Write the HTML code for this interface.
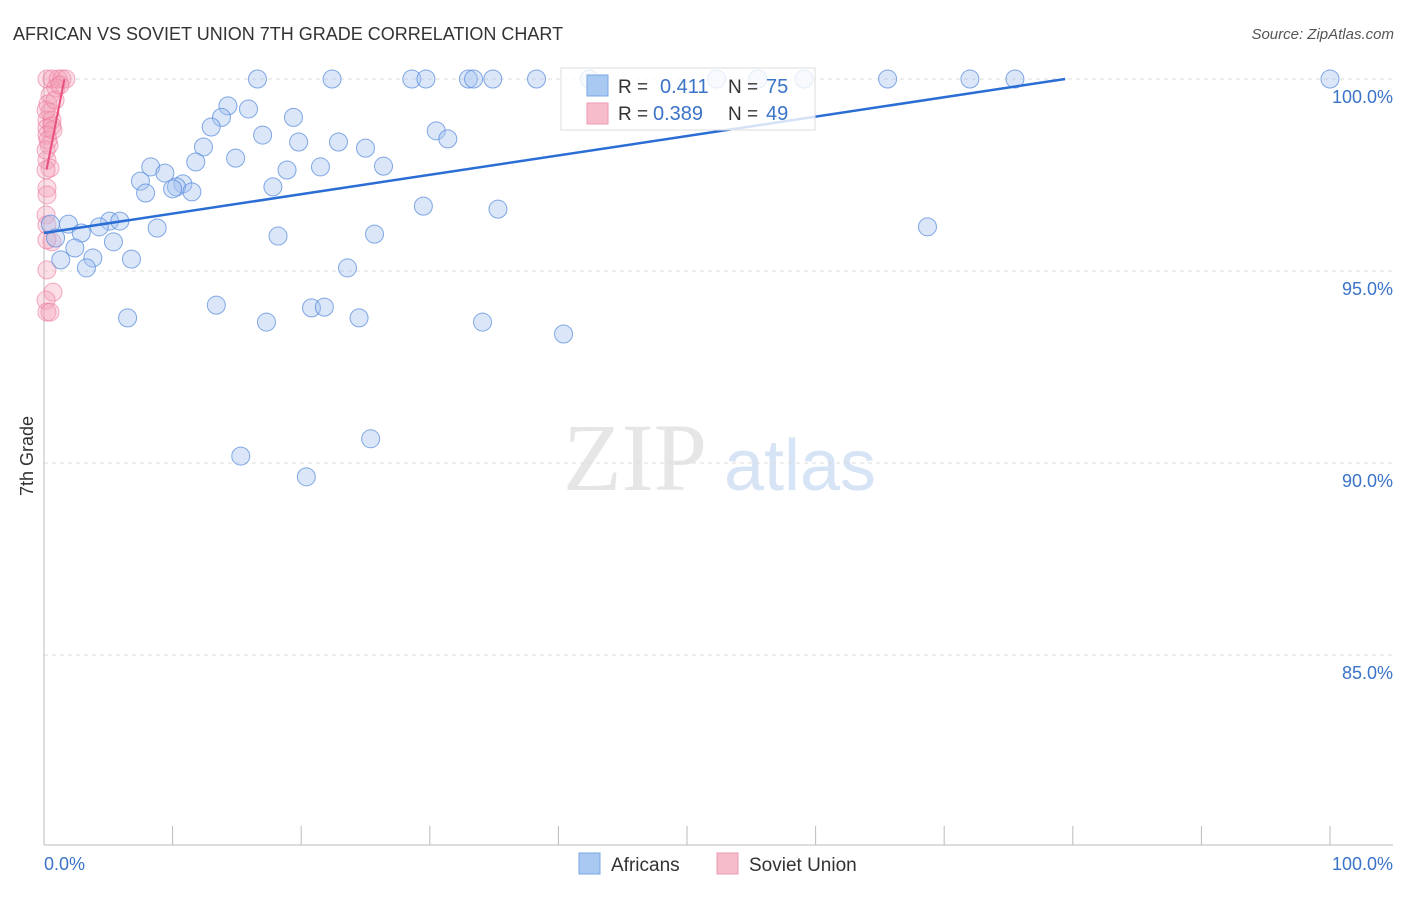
<!DOCTYPE html>
<html><head><meta charset="utf-8"><style>
body{margin:0;background:#fff;font-family:"Liberation Sans",sans-serif}
</style></head><body>
<svg width="1406" height="892" xmlns="http://www.w3.org/2000/svg" font-family="Liberation Sans, sans-serif">
<text x="13" y="40" font-size="18" fill="#333">AFRICAN VS SOVIET UNION 7TH GRADE CORRELATION CHART</text>
<text x="1394" y="39" font-size="15" fill="#555" text-anchor="end" font-style="italic">Source: ZipAtlas.com</text>
<text transform="translate(33,456) rotate(-90)" font-size="18" fill="#333" text-anchor="middle">7th Grade</text>
<g>
<text x="635" y="490" font-size="96" fill="#e6e6e6" font-family="Liberation Serif, serif" text-anchor="middle">ZIP</text>
<text x="800" y="490" font-size="72" fill="#d6e4f5" text-anchor="middle">atlas</text></g>
<g id="grid"></g><g id="axes"></g><g id="pts"></g><g id="trend"></g>
<g>
<rect x="561" y="68" width="254" height="62" fill="rgba(255,255,255,0.8)" stroke="#ddd"/>
<rect x="587" y="75" width="21" height="21" fill="#a9c8f2" stroke="#7aa6e3"/>
<rect x="587" y="103" width="21" height="21" fill="#f7bccc" stroke="#ef9ab4"/>
<text x="618" y="93" font-size="19" fill="#333">R =</text><text x="660" y="93" font-size="20" fill="#3a73c8">0.411</text>
<text x="728" y="93" font-size="19" fill="#333">N =</text><text x="766" y="93" font-size="20" fill="#3a73c8">75</text>
<text x="618" y="120" font-size="19" fill="#333">R =</text><text x="653" y="120" font-size="20" fill="#3a73c8">0.389</text>
<text x="728" y="120" font-size="19" fill="#333">N =</text><text x="766" y="120" font-size="20" fill="#3a73c8">49</text></g>
<g>
<rect x="579" y="853" width="21" height="21" fill="#a9c8f2" stroke="#7aa6e3"/>
<text x="611" y="871" font-size="19" fill="#333">Africans</text>
<rect x="717" y="853" width="21" height="21" fill="#f7bccc" stroke="#ef9ab4"/>
<text x="749" y="871" font-size="19" fill="#333">Soviet Union</text></g>
</svg>
<script>
const yTicks=[100,95,90,85];
const yTickLabels=["100.0%","95.0%","90.0%","85.0%"];
const xTickCount=10;
const blueX=[16.6,22.4,28.6,29.7,33.0,33.4,34.9,38.3,42.4,52.3,55.5,59.1,65.6,72.0,75.5,100,
14.3,15.9,13.8,19.4,13.0,17.0,30.5,31.4,19.8,22.9,12.4,25.0,14.9,11.8,8.3,21.5,26.4,9.4,18.9,7.5,10.8,10.3,10.0,17.8,11.5,7.9,29.5,35.3,68.7,
0.5,1.9,5.1,5.9,4.3,2.9,8.8,18.2,25.7,0.9,5.4,2.4,1.3,3.8,6.8,3.3,23.6,13.4,20.8,21.8,6.5,17.3,24.5,34.1,40.4,25.4,15.3,20.4];
const blueY=[100,100,100,100,100,100,100,100,100,100,100,100,100,100,100,100,
99.3,99.22,99.0,99.0,98.75,98.54,98.65,98.44,98.36,98.36,98.23,98.2,97.94,97.84,97.71,97.71,97.73,97.55,97.63,97.34,97.27,97.19,97.14,97.19,97.06,97.03,96.69,96.61,96.15,
96.22,96.22,96.3,96.3,96.15,95.99,96.12,95.91,95.96,95.86,95.76,95.6,95.29,95.34,95.31,95.08,95.08,94.11,94.04,94.06,93.78,93.67,93.78,93.67,93.36,90.63,90.18,89.64];
const pinkX=[0.23,0.62,1.1,1.4,1.7,0.93,0.47,0.31,0.47,0.23,0.62,0.23,0.62,0.23,0.39,0.23,0.47,0.23,0.23,0.16,0.23,0.62,0.23,0.23,0.7,0.16,0.23,0.47,0.16,0.31,0.16,0.86,1.24,0.7,0.16];
const pinkY=[100,100,100,100,100,99.77,99.58,99.35,99.14,98.93,98.93,98.72,98.78,98.54,98.28,97.89,97.68,97.16,96.98,96.46,96.2,95.76,95.81,95.03,94.45,94.24,93.93,93.93,99.19,98.41,97.63,99.45,99.84,98.67,98.15];
const blueTrend=[95.99,0.0505]; // intercept, slope
const pinkTrend=[97.3,1.7];
const X=v=>44+v*12.86, Y=v=>79+(100-v)*38.4;
const NS="http://www.w3.org/2000/svg";
function mk(t,a,p){const e=document.createElementNS(NS,t);for(const k in a)e.setAttribute(k,a[k]);p.appendChild(e);return e;}
const grid=document.getElementById('grid'),axes=document.getElementById('axes'),pts=document.getElementById('pts'),tr=document.getElementById('trend');
yTicks.forEach((t,i)=>{
 const l=mk('line',{x1:44,x2:1393,y1:Y(t),y2:Y(t),stroke:'#ddd','stroke-dasharray':'4,4'},grid);
 
 
 const tx=mk('text',{x:1393,y:Y(t)+24,'font-size':18,fill:'#3a73c8','text-anchor':'end'},axes);
 tx.textContent=yTickLabels[i];
 
 
});
let a=mk('line',{x1:44,x2:44,y1:70,y2:845,stroke:'#bbb'},axes);


a=mk('line',{x1:44,x2:1393,y1:845,y2:845,stroke:'#bbb'},axes);


for(let k=1;k<=xTickCount;k++){const x=X(k*100/xTickCount);
 const t=mk('line',{x1:x,x2:x,y1:826,y2:845,stroke:'#bbb'},axes);
 
 }
let t0=mk('text',{x:44,y:870,'font-size':18,fill:'#3a73c8'},axes);t0.textContent='0.0%';


t0=mk('text',{x:1393,y:870,'font-size':18,fill:'#3a73c8','text-anchor':'end'},axes);t0.textContent='100.0%';


pinkX.forEach((v,i)=>{const c=mk('circle',{cx:X(v),cy:Y(pinkY[i]),r:9,fill:'rgba(244,160,184,0.35)',stroke:'rgba(236,120,155,0.6)'},pts);
 
 });
blueX.forEach((v,i)=>{const c=mk('circle',{cx:X(v),cy:Y(blueY[i]),r:9,fill:'rgba(164,196,240,0.4)',stroke:'rgba(90,140,220,0.75)'},pts);
 
 });
const bx2=(100-blueTrend[0])/blueTrend[1];
let L=mk('line',{x1:X(0),y1:Y(blueTrend[0]),x2:X(bx2),y2:Y(100),stroke:'#2a6dd4','stroke-width':2.5},tr);


const px2=(100-pinkTrend[0])/pinkTrend[1];
L=mk('line',{x1:X(0.2),y1:Y(pinkTrend[0]+0.2*pinkTrend[1]),x2:X(px2),y2:Y(100),stroke:'#e8507e','stroke-width':2},tr);


</script>
</body></html>
